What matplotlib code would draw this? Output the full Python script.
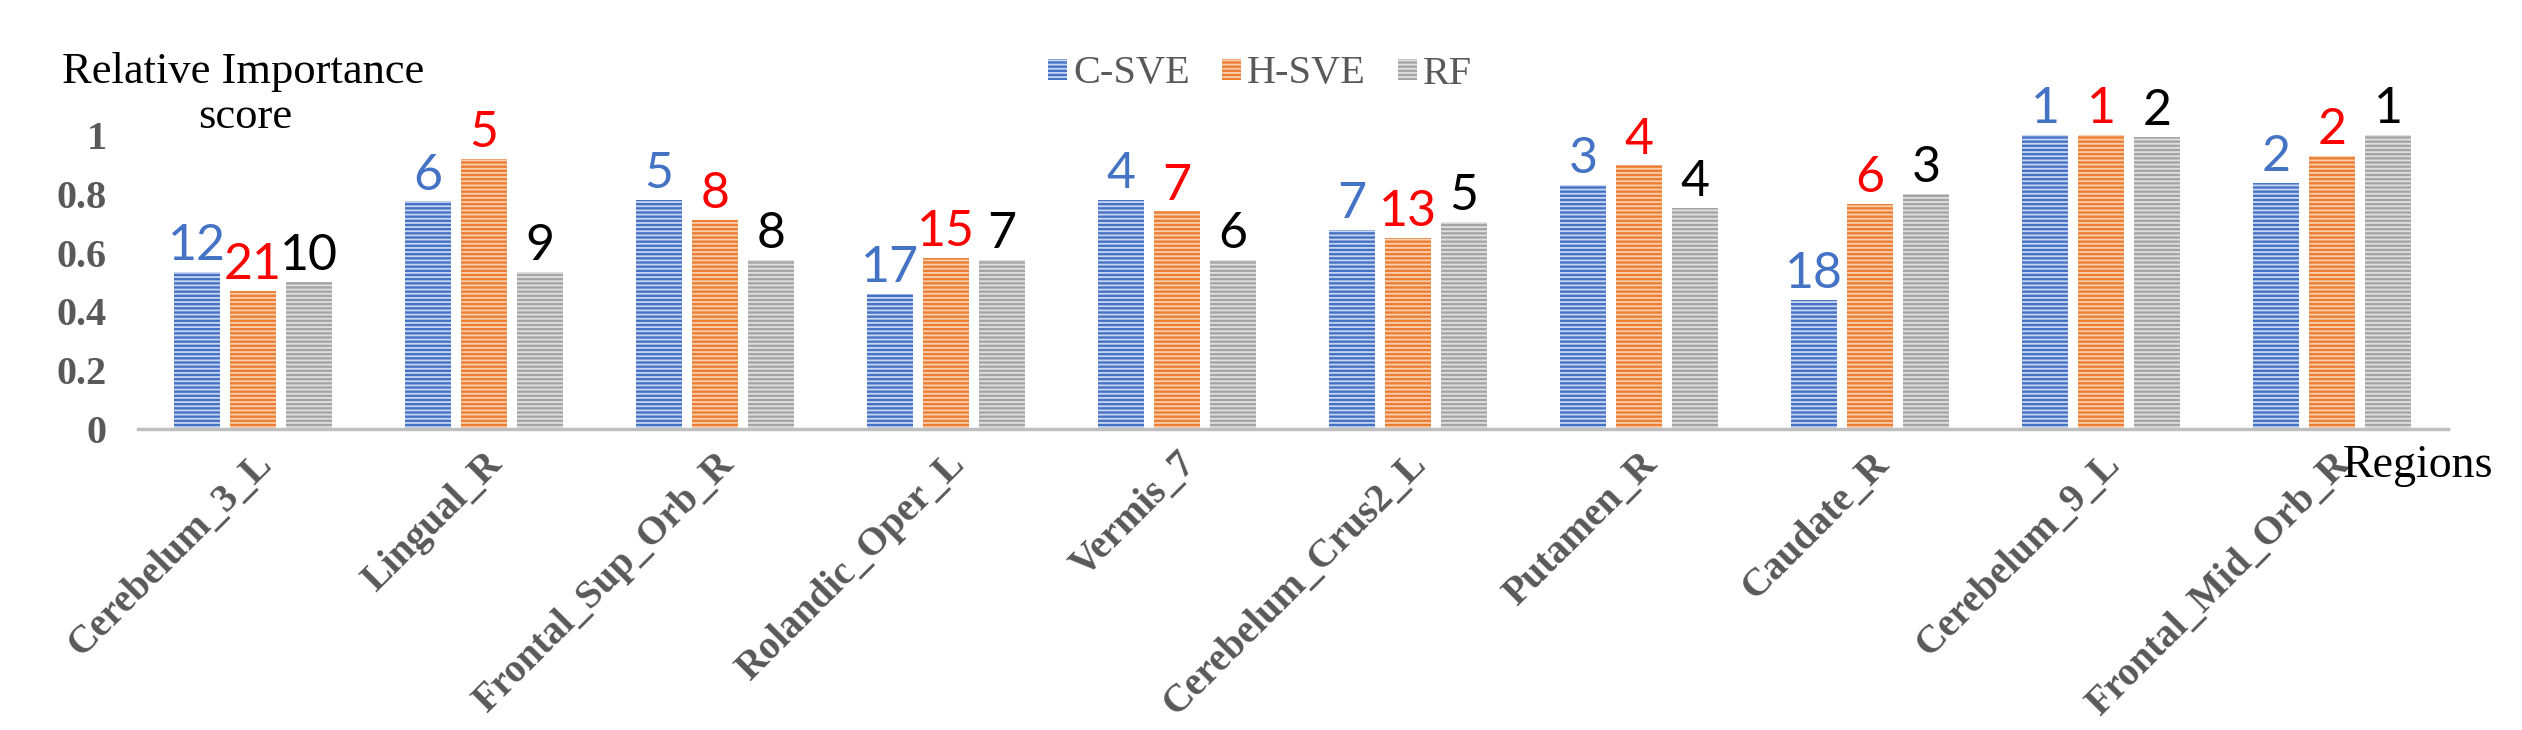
import numpy as np
import matplotlib
matplotlib.use("Agg")
import matplotlib.pyplot as plt
from matplotlib.patches import Patch

# data
regions = ["Cerebelum_3_L", "Lingual_R", "Frontal_Sup_Orb_R", "Rolandic_Oper_L",
           "Vermis_7", "Cerebelum_Crus2_L", "Putamen_R", "Caudate_R",
           "Cerebelum_9_L", "Frontal_Mid_Orb_R"]
c_sve = [0.534, 0.774, 0.780, 0.459, 0.780, 0.678, 0.829, 0.438, 1.000, 0.836]
h_sve = [0.470, 0.918, 0.712, 0.582, 0.740, 0.650, 0.897, 0.767, 1.000, 0.930]
rf = [0.500, 0.534, 0.575, 0.575, 0.575, 0.705, 0.753, 0.800, 0.993, 1.000]
c_sve_rank = [12, 6, 5, 17, 4, 7, 3, 18, 1, 2]
h_sve_rank = [21, 5, 8, 15, 7, 13, 4, 6, 1, 2]
rf_rank = [10, 9, 8, 7, 6, 5, 4, 3, 2, 1]
series_names = ["C-SVE", "H-SVE", "RF"]
y_ticks = [0, 0.2, 0.4, 0.6, 0.8, 1]

W, H = 2522, 730
serif = "Liberation Serif"
gray_txt = "#595959"

plt.rcParams["hatch.linewidth"] = 1.3

fig = plt.figure(figsize=(W / 100, H / 100), dpi=100)
ax = fig.add_axes([137.5 / W, (H - 429) / H, 2310 / W, 1.2 * 294 / H])

x = np.arange(len(regions))
width = 0.199
offset = 0.2424
styles = [("#4472C4", "#C9D6F0", "#4472C4"),
          ("#ED7D31", "#F9CFB2", "#FF0000"),
          ("#A5A5A5", "#E0E0E0", "#000000")]
values = [c_sve, h_sve, rf]
ranks = [c_sve_rank, h_sve_rank, rf_rank]

handles = []
for i, (vals, rk, (face, stripe, lab_col)) in enumerate(zip(values, ranks, styles)):
    bars = ax.bar(x + (i - 1) * offset, vals, width, color=face, edgecolor=stripe,
                  linewidth=0, hatch="----")
    for b, r in zip(bars, rk):
        ax.annotate(str(r), (b.get_x() + b.get_width() / 2, b.get_height()),
                    xytext=(0, 2), textcoords="offset points", ha="center", va="bottom",
                    fontsize=36, family="Lato", color=lab_col, clip_on=False)
    handles.append(Patch(facecolor=face, edgecolor=stripe, linewidth=0, hatch="----"))

ax.set_xlim(-0.5, len(regions) - 0.5)
ax.set_ylim(0, 1.2)
ax.set_yticks(y_ticks)
ax.set_yticklabels([f"{t:g}" for t in y_ticks], family=serif, fontweight="bold",
                   fontsize=29, color=gray_txt)
ax.set_xticks(x)
ax.set_xticklabels(regions, rotation=45, ha="right", rotation_mode="anchor",
                   family=serif, fontweight="bold", fontsize=28.5, color=gray_txt)
ax.tick_params(axis="y", length=0, pad=22)
ax.tick_params(axis="x", length=0, pad=12)
for s in ["top", "right", "left"]:
    ax.spines[s].set_visible(False)
ax.spines["bottom"].set_color("#BFBFBF")
ax.spines["bottom"].set_linewidth(2.5)

fig.legend(handles, series_names, loc="center", bbox_to_anchor=(0.4996, 1 - 74 / H),
           ncol=3, frameon=False, handlelength=0.47, handleheight=0.42,
           handletextpad=0.15, columnspacing=0.8,
           prop={"family": serif, "size": 29}, labelcolor=gray_txt)

# axis titles, Excel-style free text boxes
fig.text(243 / W, 1 - 83 / H, "Relative Importance", ha="center", va="baseline",
         family=serif, fontsize=32, color="black")
fig.text(245 / W, 1 - 128 / H, "score", ha="center", va="baseline",
         family=serif, fontsize=32, color="black")
fig.text(2343 / W, 1 - 477 / H, "Regions", ha="left", va="baseline",
         family=serif, fontsize=33, color="black")

fig.savefig("out.png", dpi=100)
